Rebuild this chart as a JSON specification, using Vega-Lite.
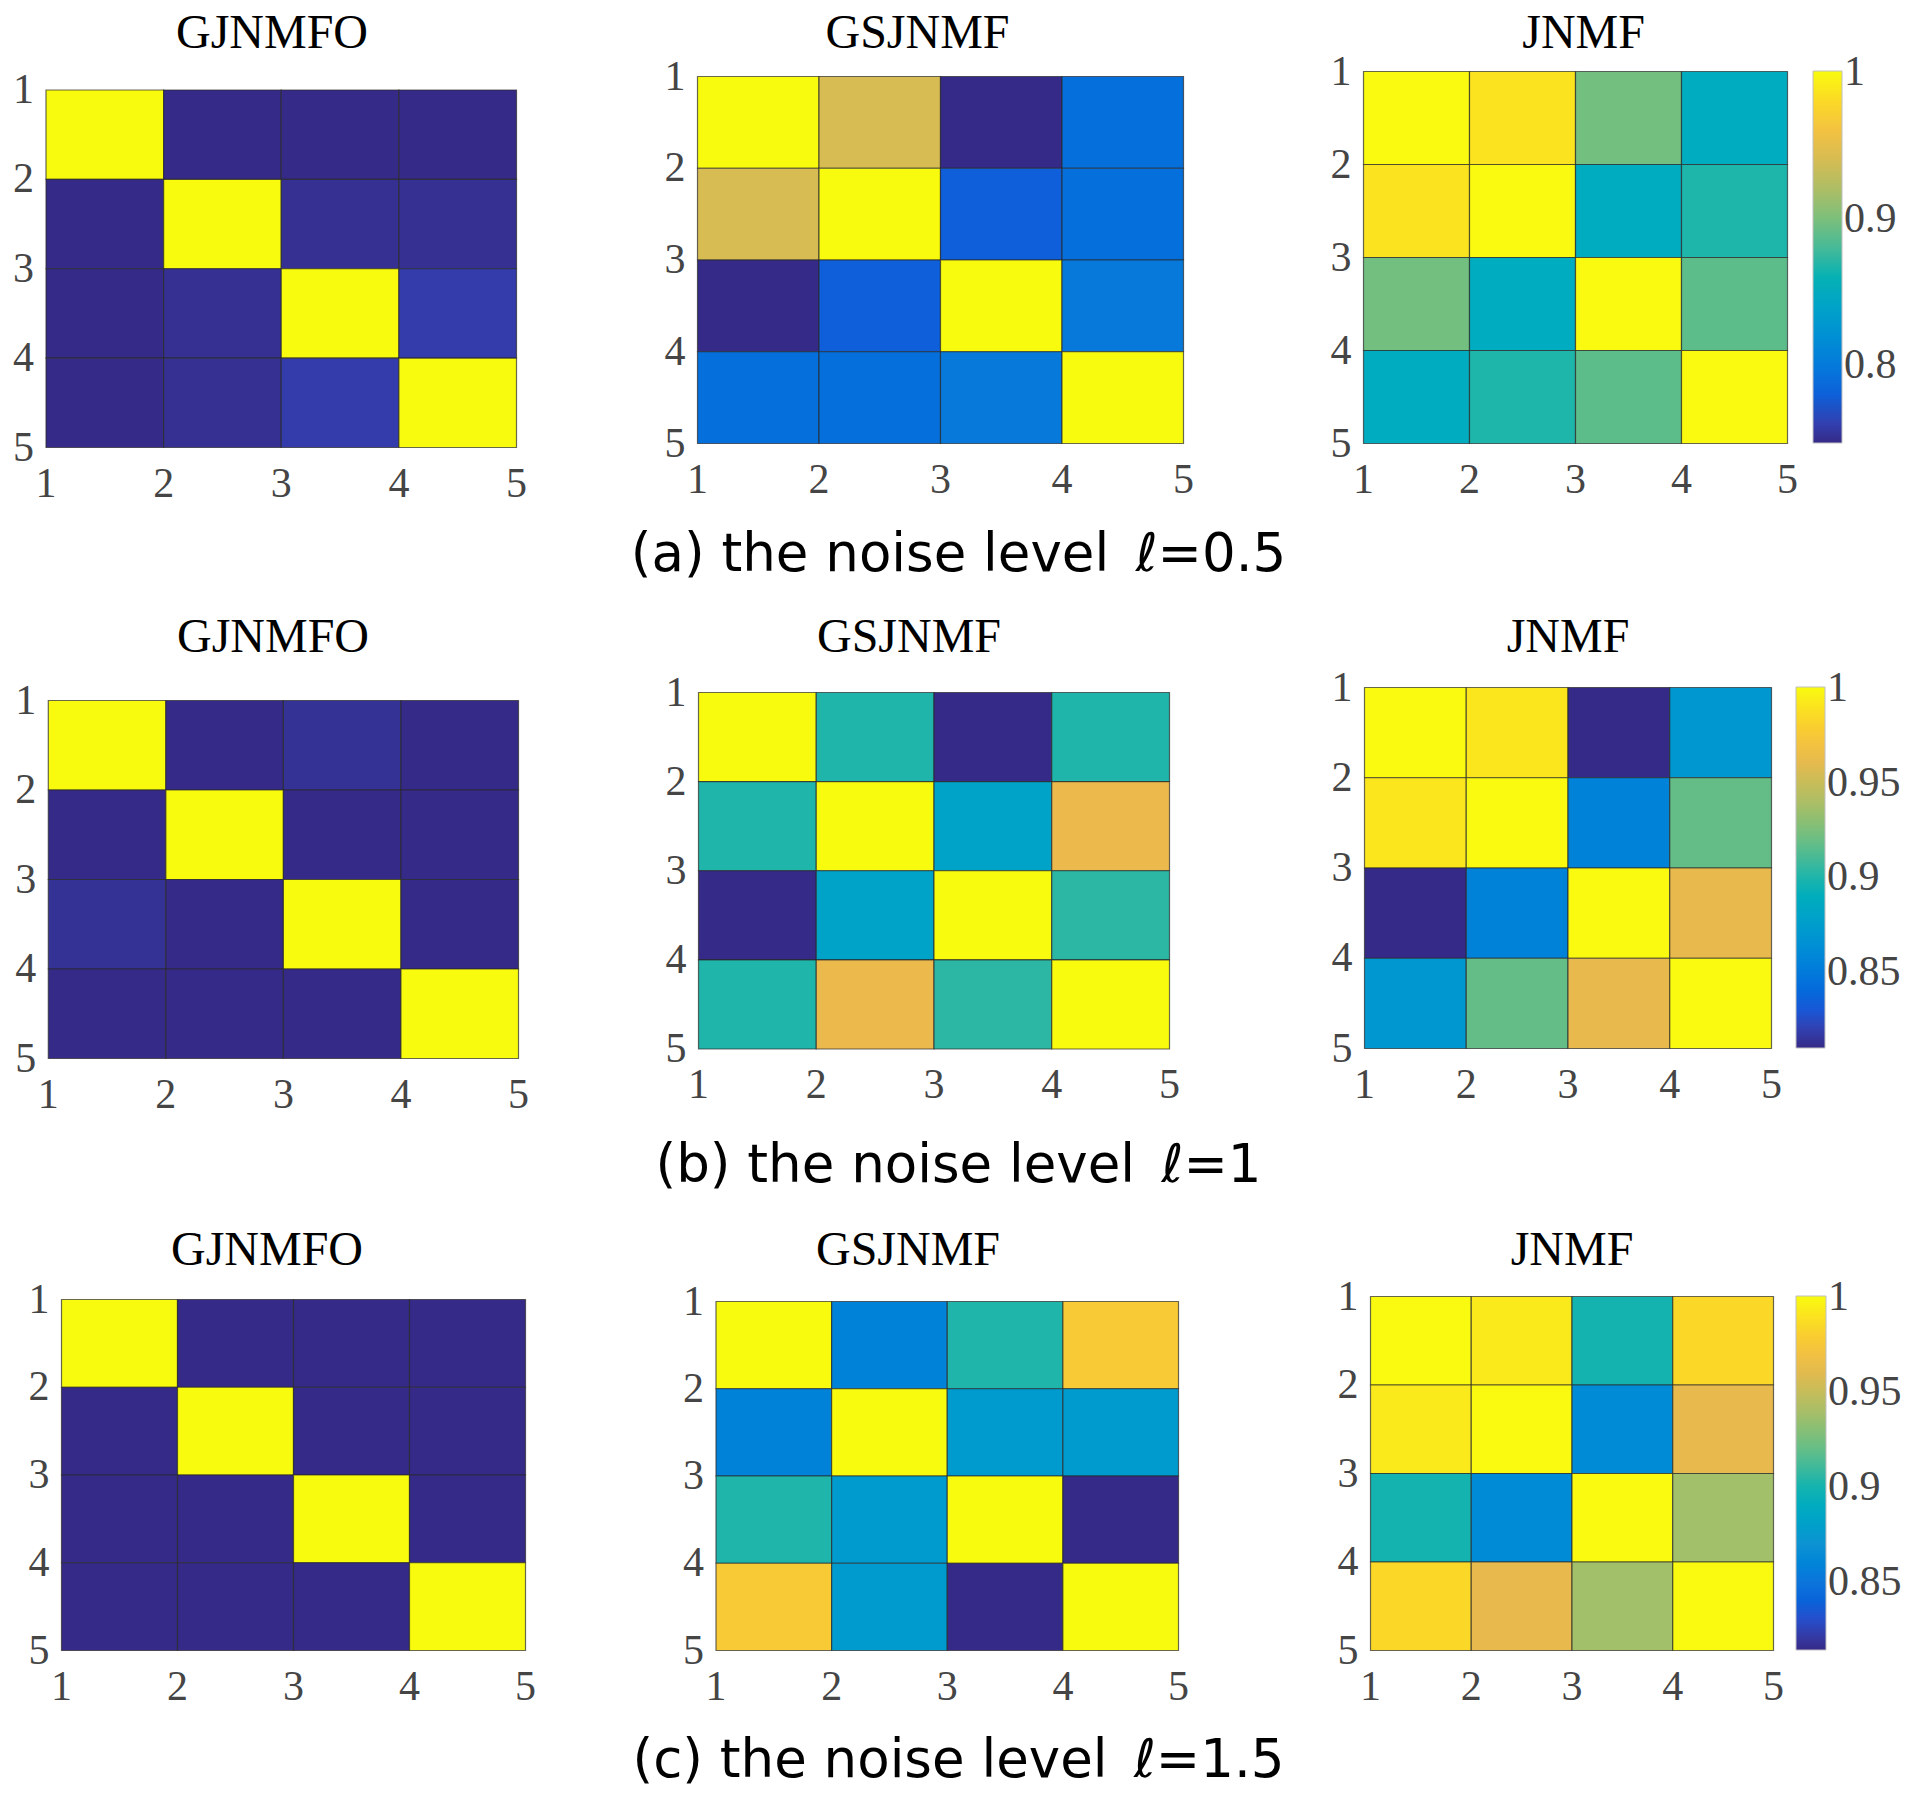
{
  "$schema": "https://vega.github.io/schema/vega-lite/v6.json",
  "padding": 0,
  "background": "white",
  "columns": 3,
  "spacing": 0,
  "bounds": "flush",
  "resolve": {
    "scale": {"x": "independent", "y": "independent", "color": "independent"},
    "axis": {"x": "independent", "y": "independent"},
    "legend": {"color": "independent"}
  },
  "datasets": {
    "a1": [
      {"r": 1, "c": 1, "v": 1}, {"r": 1, "c": 2, "v": 0}, {"r": 1, "c": 3, "v": 0}, {"r": 1, "c": 4, "v": 0},
      {"r": 2, "c": 1, "v": 0}, {"r": 2, "c": 2, "v": 1}, {"r": 2, "c": 3, "v": 0.015}, {"r": 2, "c": 4, "v": 0.015},
      {"r": 3, "c": 1, "v": 0}, {"r": 3, "c": 2, "v": 0.015}, {"r": 3, "c": 3, "v": 1}, {"r": 3, "c": 4, "v": 0.045},
      {"r": 4, "c": 1, "v": 0}, {"r": 4, "c": 2, "v": 0.015}, {"r": 4, "c": 3, "v": 0.045}, {"r": 4, "c": 4, "v": 1}
    ],
    "a2": [
      {"r": 1, "c": 1, "v": 1}, {"r": 1, "c": 2, "v": 0.76}, {"r": 1, "c": 3, "v": 0}, {"r": 1, "c": 4, "v": 0.175},
      {"r": 2, "c": 1, "v": 0.76}, {"r": 2, "c": 2, "v": 1}, {"r": 2, "c": 3, "v": 0.127}, {"r": 2, "c": 4, "v": 0.175},
      {"r": 3, "c": 1, "v": 0}, {"r": 3, "c": 2, "v": 0.127}, {"r": 3, "c": 3, "v": 1}, {"r": 3, "c": 4, "v": 0.206},
      {"r": 4, "c": 1, "v": 0.175}, {"r": 4, "c": 2, "v": 0.175}, {"r": 4, "c": 3, "v": 0.206}, {"r": 4, "c": 4, "v": 1}
    ],
    "a3": [
      {"r": 1, "c": 1, "v": 1}, {"r": 1, "c": 2, "v": 0.987}, {"r": 1, "c": 3, "v": 0.896}, {"r": 1, "c": 4, "v": 0.851},
      {"r": 2, "c": 1, "v": 0.987}, {"r": 2, "c": 2, "v": 1}, {"r": 2, "c": 3, "v": 0.851}, {"r": 2, "c": 4, "v": 0.867},
      {"r": 3, "c": 1, "v": 0.896}, {"r": 3, "c": 2, "v": 0.851}, {"r": 3, "c": 3, "v": 1}, {"r": 3, "c": 4, "v": 0.888},
      {"r": 4, "c": 1, "v": 0.851}, {"r": 4, "c": 2, "v": 0.867}, {"r": 4, "c": 3, "v": 0.888}, {"r": 4, "c": 4, "v": 1}
    ],
    "b1": [
      {"r": 1, "c": 1, "v": 1}, {"r": 1, "c": 2, "v": 0}, {"r": 1, "c": 3, "v": 0.02}, {"r": 1, "c": 4, "v": 0},
      {"r": 2, "c": 1, "v": 0}, {"r": 2, "c": 2, "v": 1}, {"r": 2, "c": 3, "v": 0}, {"r": 2, "c": 4, "v": 0},
      {"r": 3, "c": 1, "v": 0.02}, {"r": 3, "c": 2, "v": 0}, {"r": 3, "c": 3, "v": 1}, {"r": 3, "c": 4, "v": 0},
      {"r": 4, "c": 1, "v": 0}, {"r": 4, "c": 2, "v": 0}, {"r": 4, "c": 3, "v": 0}, {"r": 4, "c": 4, "v": 1}
    ],
    "b2": [
      {"r": 1, "c": 1, "v": 1}, {"r": 1, "c": 2, "v": 0.475}, {"r": 1, "c": 3, "v": 0}, {"r": 1, "c": 4, "v": 0.475},
      {"r": 2, "c": 1, "v": 0.475}, {"r": 2, "c": 2, "v": 1}, {"r": 2, "c": 3, "v": 0.365}, {"r": 2, "c": 4, "v": 0.8},
      {"r": 3, "c": 1, "v": 0}, {"r": 3, "c": 2, "v": 0.365}, {"r": 3, "c": 3, "v": 1}, {"r": 3, "c": 4, "v": 0.49},
      {"r": 4, "c": 1, "v": 0.475}, {"r": 4, "c": 2, "v": 0.8}, {"r": 4, "c": 3, "v": 0.49}, {"r": 4, "c": 4, "v": 1}
    ],
    "b3": [
      {"r": 1, "c": 1, "v": 1}, {"r": 1, "c": 2, "v": 0.991}, {"r": 1, "c": 3, "v": 0.81}, {"r": 1, "c": 4, "v": 0.87},
      {"r": 2, "c": 1, "v": 0.991}, {"r": 2, "c": 2, "v": 1}, {"r": 2, "c": 3, "v": 0.855}, {"r": 2, "c": 4, "v": 0.918},
      {"r": 3, "c": 1, "v": 0.81}, {"r": 3, "c": 2, "v": 0.855}, {"r": 3, "c": 3, "v": 1}, {"r": 3, "c": 4, "v": 0.961},
      {"r": 4, "c": 1, "v": 0.87}, {"r": 4, "c": 2, "v": 0.918}, {"r": 4, "c": 3, "v": 0.961}, {"r": 4, "c": 4, "v": 1}
    ],
    "c1": [
      {"r": 1, "c": 1, "v": 1}, {"r": 1, "c": 2, "v": 0}, {"r": 1, "c": 3, "v": 0}, {"r": 1, "c": 4, "v": 0},
      {"r": 2, "c": 1, "v": 0}, {"r": 2, "c": 2, "v": 1}, {"r": 2, "c": 3, "v": 0}, {"r": 2, "c": 4, "v": 0},
      {"r": 3, "c": 1, "v": 0}, {"r": 3, "c": 2, "v": 0}, {"r": 3, "c": 3, "v": 1}, {"r": 3, "c": 4, "v": 0},
      {"r": 4, "c": 1, "v": 0}, {"r": 4, "c": 2, "v": 0}, {"r": 4, "c": 3, "v": 0}, {"r": 4, "c": 4, "v": 1}
    ],
    "c2": [
      {"r": 1, "c": 1, "v": 1}, {"r": 1, "c": 2, "v": 0.238}, {"r": 1, "c": 3, "v": 0.475}, {"r": 1, "c": 4, "v": 0.873},
      {"r": 2, "c": 1, "v": 0.238}, {"r": 2, "c": 2, "v": 1}, {"r": 2, "c": 3, "v": 0.333}, {"r": 2, "c": 4, "v": 0.333},
      {"r": 3, "c": 1, "v": 0.475}, {"r": 3, "c": 2, "v": 0.333}, {"r": 3, "c": 3, "v": 1}, {"r": 3, "c": 4, "v": 0},
      {"r": 4, "c": 1, "v": 0.873}, {"r": 4, "c": 2, "v": 0.333}, {"r": 4, "c": 3, "v": 0}, {"r": 4, "c": 4, "v": 1}
    ],
    "c3": [
      {"r": 1, "c": 1, "v": 1}, {"r": 1, "c": 2, "v": 0.993}, {"r": 1, "c": 3, "v": 0.9}, {"r": 1, "c": 4, "v": 0.985},
      {"r": 2, "c": 1, "v": 0.993}, {"r": 2, "c": 2, "v": 1}, {"r": 2, "c": 3, "v": 0.864}, {"r": 2, "c": 4, "v": 0.962},
      {"r": 3, "c": 1, "v": 0.9}, {"r": 3, "c": 2, "v": 0.864}, {"r": 3, "c": 3, "v": 1}, {"r": 3, "c": 4, "v": 0.938},
      {"r": 4, "c": 1, "v": 0.985}, {"r": 4, "c": 2, "v": 0.962}, {"r": 4, "c": 3, "v": 0.938}, {"r": 4, "c": 4, "v": 1}
    ]
  },
  "concat": [
    {
      "width": 640, "height": 600,
      "data": {"name": "a1"},
      "title": {"text": "GJNMFO", "offset": -58, "dx": -48},
      "mark": {"type": "rect", "stroke": "#2a2a2a", "strokeWidth": 1.2, "strokeOpacity": 0.7},
      "encoding": {
        "x": {"field": "c", "type": "quantitative", "bin": {"step": 1, "extent": [1, 5]}, "scale": {"domain": [1, 5], "range": [45.5, 516], "nice": false, "zero": false}, "axis": {"values": [1, 2, 3, 4, 5], "offset": -153, "title": null, "labelPadding": 16}},
        "y": {"field": "r", "type": "quantitative", "bin": {"step": 1, "extent": [1, 5]}, "scale": {"domain": [1, 5], "range": [89.5, 447], "nice": false, "zero": false}, "axis": {"values": [1, 2, 3, 4, 5], "offset": -45.5, "title": null, "labelPadding": 12}},
        "color": {"field": "v", "type": "quantitative", "scale": {"domain": [0, 1], "nice": false, "zero": false, "range": ["#352A87", "#1B55D7", "#0F77DB", "#0D93D2", "#07AAC1", "#33B8A1", "#7ABF7C", "#B8BD63", "#ECB94C", "#FAD12B", "#F9FB0E"]}, "legend": null}
      }
    },
    {
      "width": 640, "height": 600,
      "data": {"name": "a2"},
      "title": {"text": "GSJNMF", "offset": -58, "dx": -42.5},
      "mark": {"type": "rect", "stroke": "#2a2a2a", "strokeWidth": 1.2, "strokeOpacity": 0.7},
      "encoding": {
        "x": {"field": "c", "type": "quantitative", "bin": {"step": 1, "extent": [1, 5]}, "scale": {"domain": [1, 5], "range": [57, 543], "nice": false, "zero": false}, "axis": {"values": [1, 2, 3, 4, 5], "offset": -157, "labelPadding": 16, "title": "(a) the noise level\u2002ℓ=0.5", "titleFont": "DejaVu Sans", "titleFontSize": 53, "titleFontWeight": "normal", "titleColor": "#000000", "titleX": 318, "titleY": 111, "titleAlign": "center", "titleBaseline": "middle", "titleAngle": 0}},
        "y": {"field": "r", "type": "quantitative", "bin": {"step": 1, "extent": [1, 5]}, "scale": {"domain": [1, 5], "range": [76, 443], "nice": false, "zero": false}, "axis": {"values": [1, 2, 3, 4, 5], "offset": -57, "title": null, "labelPadding": 12}},
        "color": {"field": "v", "type": "quantitative", "scale": {"domain": [0, 1], "nice": false, "zero": false, "range": ["#352A87", "#1B55D7", "#0F77DB", "#0D93D2", "#07AAC1", "#33B8A1", "#7ABF7C", "#B8BD63", "#ECB94C", "#FAD12B", "#F9FB0E"]}, "legend": null}
      }
    },
    {
      "width": 640, "height": 600,
      "data": {"name": "a3"},
      "title": {"text": "JNMF", "offset": -58, "dx": -16.4},
      "mark": {"type": "rect", "stroke": "#2a2a2a", "strokeWidth": 1.2, "strokeOpacity": 0.7},
      "encoding": {
        "x": {"field": "c", "type": "quantitative", "bin": {"step": 1, "extent": [1, 5]}, "scale": {"domain": [1, 5], "range": [83, 507], "nice": false, "zero": false}, "axis": {"values": [1, 2, 3, 4, 5], "offset": -157, "title": null, "labelPadding": 16}},
        "y": {"field": "r", "type": "quantitative", "bin": {"step": 1, "extent": [1, 5]}, "scale": {"domain": [1, 5], "range": [71, 443], "nice": false, "zero": false}, "axis": {"values": [1, 2, 3, 4, 5], "offset": -83, "title": null, "labelPadding": 12}},
        "color": {"field": "v", "type": "quantitative", "scale": {"domain": [0.747, 1.0006], "nice": false, "zero": false, "range": ["#352A87", "#1B55D7", "#0F77DB", "#0D93D2", "#07AAC1", "#33B8A1", "#7ABF7C", "#B8BD63", "#ECB94C", "#FAD12B", "#F9FB0E"]}, "legend": {"orient": "none", "legendX": 533, "legendY": 71, "gradientLength": 372, "gradientThickness": 29, "values": [0.8, 0.9, 1], "format": "~g", "title": null, "direction": "vertical"}}
      }
    },
    {
      "width": 640, "height": 600,
      "data": {"name": "b1"},
      "title": {"text": "GJNMFO", "offset": -61.5, "dx": -47},
      "mark": {"type": "rect", "stroke": "#2a2a2a", "strokeWidth": 1.2, "strokeOpacity": 0.7},
      "encoding": {
        "x": {"field": "c", "type": "quantitative", "bin": {"step": 1, "extent": [1, 5]}, "scale": {"domain": [1, 5], "range": [47.8, 518], "nice": false, "zero": false}, "axis": {"values": [1, 2, 3, 4, 5], "offset": -142, "title": null, "labelPadding": 16}},
        "y": {"field": "r", "type": "quantitative", "bin": {"step": 1, "extent": [1, 5]}, "scale": {"domain": [1, 5], "range": [100, 458], "nice": false, "zero": false}, "axis": {"values": [1, 2, 3, 4, 5], "offset": -47.8, "title": null, "labelPadding": 12}},
        "color": {"field": "v", "type": "quantitative", "scale": {"domain": [0, 1], "nice": false, "zero": false, "range": ["#352A87", "#1B55D7", "#0F77DB", "#0D93D2", "#07AAC1", "#33B8A1", "#7ABF7C", "#B8BD63", "#ECB94C", "#FAD12B", "#F9FB0E"]}, "legend": null}
      }
    },
    {
      "width": 640, "height": 600,
      "data": {"name": "b2"},
      "title": {"text": "GSJNMF", "offset": -61.5, "dx": -51},
      "mark": {"type": "rect", "stroke": "#2a2a2a", "strokeWidth": 1.2, "strokeOpacity": 0.7},
      "encoding": {
        "x": {"field": "c", "type": "quantitative", "bin": {"step": 1, "extent": [1, 5]}, "scale": {"domain": [1, 5], "range": [58, 529], "nice": false, "zero": false}, "axis": {"values": [1, 2, 3, 4, 5], "offset": -151.5, "labelPadding": 16, "title": "(b) the noise level\u2002ℓ=1", "titleFont": "DejaVu Sans", "titleFontSize": 53, "titleFontWeight": "normal", "titleColor": "#000000", "titleX": 318, "titleY": 117, "titleAlign": "center", "titleBaseline": "middle", "titleAngle": 0}},
        "y": {"field": "r", "type": "quantitative", "bin": {"step": 1, "extent": [1, 5]}, "scale": {"domain": [1, 5], "range": [92, 448.5], "nice": false, "zero": false}, "axis": {"values": [1, 2, 3, 4, 5], "offset": -58, "title": null, "labelPadding": 12}},
        "color": {"field": "v", "type": "quantitative", "scale": {"domain": [0, 1], "nice": false, "zero": false, "range": ["#352A87", "#1B55D7", "#0F77DB", "#0D93D2", "#07AAC1", "#33B8A1", "#7ABF7C", "#B8BD63", "#ECB94C", "#FAD12B", "#F9FB0E"]}, "legend": null}
      }
    },
    {
      "width": 640, "height": 600,
      "data": {"name": "b3"},
      "title": {"text": "JNMF", "offset": -61.5, "dx": -32},
      "mark": {"type": "rect", "stroke": "#2a2a2a", "strokeWidth": 1.2, "strokeOpacity": 0.7},
      "encoding": {
        "x": {"field": "c", "type": "quantitative", "bin": {"step": 1, "extent": [1, 5]}, "scale": {"domain": [1, 5], "range": [84, 491], "nice": false, "zero": false}, "axis": {"values": [1, 2, 3, 4, 5], "offset": -152, "title": null, "labelPadding": 16}},
        "y": {"field": "r", "type": "quantitative", "bin": {"step": 1, "extent": [1, 5]}, "scale": {"domain": [1, 5], "range": [87, 448], "nice": false, "zero": false}, "axis": {"values": [1, 2, 3, 4, 5], "offset": -84, "title": null, "labelPadding": 12}},
        "color": {"field": "v", "type": "quantitative", "scale": {"domain": [0.81, 1.0005], "nice": false, "zero": false, "range": ["#352A87", "#1B55D7", "#0F77DB", "#0D93D2", "#07AAC1", "#33B8A1", "#7ABF7C", "#B8BD63", "#ECB94C", "#FAD12B", "#F9FB0E"]}, "legend": {"orient": "none", "legendX": 516, "legendY": 87, "gradientLength": 361, "gradientThickness": 29, "values": [0.85, 0.9, 0.95, 1], "format": "~g", "title": null, "direction": "vertical"}}
      }
    },
    {
      "width": 640, "height": 600,
      "data": {"name": "c1"},
      "title": {"text": "GJNMFO", "offset": -75, "dx": -53},
      "mark": {"type": "rect", "stroke": "#2a2a2a", "strokeWidth": 1.2, "strokeOpacity": 0.7},
      "encoding": {
        "x": {"field": "c", "type": "quantitative", "bin": {"step": 1, "extent": [1, 5]}, "scale": {"domain": [1, 5], "range": [61, 525], "nice": false, "zero": false}, "axis": {"values": [1, 2, 3, 4, 5], "offset": -150, "title": null, "labelPadding": 16}},
        "y": {"field": "r", "type": "quantitative", "bin": {"step": 1, "extent": [1, 5]}, "scale": {"domain": [1, 5], "range": [99, 450], "nice": false, "zero": false}, "axis": {"values": [1, 2, 3, 4, 5], "offset": -61, "title": null, "labelPadding": 12}},
        "color": {"field": "v", "type": "quantitative", "scale": {"domain": [0, 1], "nice": false, "zero": false, "range": ["#352A87", "#1B55D7", "#0F77DB", "#0D93D2", "#07AAC1", "#33B8A1", "#7ABF7C", "#B8BD63", "#ECB94C", "#FAD12B", "#F9FB0E"]}, "legend": null}
      }
    },
    {
      "width": 640, "height": 600,
      "data": {"name": "c2"},
      "title": {"text": "GSJNMF", "offset": -75, "dx": -52},
      "mark": {"type": "rect", "stroke": "#2a2a2a", "strokeWidth": 1.2, "strokeOpacity": 0.7},
      "encoding": {
        "x": {"field": "c", "type": "quantitative", "bin": {"step": 1, "extent": [1, 5]}, "scale": {"domain": [1, 5], "range": [75.5, 538], "nice": false, "zero": false}, "axis": {"values": [1, 2, 3, 4, 5], "offset": -150, "labelPadding": 16, "title": "(c) the noise level\u2002ℓ=1.5", "titleFont": "DejaVu Sans", "titleFontSize": 53, "titleFontWeight": "normal", "titleColor": "#000000", "titleX": 318, "titleY": 110, "titleAlign": "center", "titleBaseline": "middle", "titleAngle": 0}},
        "y": {"field": "r", "type": "quantitative", "bin": {"step": 1, "extent": [1, 5]}, "scale": {"domain": [1, 5], "range": [101, 450], "nice": false, "zero": false}, "axis": {"values": [1, 2, 3, 4, 5], "offset": -75.5, "title": null, "labelPadding": 12}},
        "color": {"field": "v", "type": "quantitative", "scale": {"domain": [0, 1], "nice": false, "zero": false, "range": ["#352A87", "#1B55D7", "#0F77DB", "#0D93D2", "#07AAC1", "#33B8A1", "#7ABF7C", "#B8BD63", "#ECB94C", "#FAD12B", "#F9FB0E"]}, "legend": null}
      }
    },
    {
      "width": 640, "height": 600,
      "data": {"name": "c3"},
      "title": {"text": "JNMF", "offset": -75, "dx": -28},
      "mark": {"type": "rect", "stroke": "#2a2a2a", "strokeWidth": 1.2, "strokeOpacity": 0.7},
      "encoding": {
        "x": {"field": "c", "type": "quantitative", "bin": {"step": 1, "extent": [1, 5]}, "scale": {"domain": [1, 5], "range": [90, 493], "nice": false, "zero": false}, "axis": {"values": [1, 2, 3, 4, 5], "offset": -150, "title": null, "labelPadding": 16}},
        "y": {"field": "r", "type": "quantitative", "bin": {"step": 1, "extent": [1, 5]}, "scale": {"domain": [1, 5], "range": [96, 450], "nice": false, "zero": false}, "axis": {"values": [1, 2, 3, 4, 5], "offset": -90, "title": null, "labelPadding": 12}},
        "color": {"field": "v", "type": "quantitative", "scale": {"domain": [0.814, 1.0005], "nice": false, "zero": false, "range": ["#352A87", "#1B55D7", "#0F77DB", "#0D93D2", "#07AAC1", "#33B8A1", "#7ABF7C", "#B8BD63", "#ECB94C", "#FAD12B", "#F9FB0E"]}, "legend": {"orient": "none", "legendX": 516, "legendY": 96, "gradientLength": 354, "gradientThickness": 30, "values": [0.85, 0.9, 0.95, 1], "format": "~g", "title": null, "direction": "vertical"}}
      }
    }
  ],
  "config": {
    "view": {"stroke": null},
    "axis": {"domain": false, "ticks": false, "tickSize": 0, "grid": false, "labelFont": "Liberation Serif", "labelFontSize": 42, "labelColor": "#454545", "labelFlush": false, "labelOverlap": false},
    "title": {"font": "Liberation Serif", "fontSize": 48, "fontWeight": "normal", "color": "#000000", "anchor": "middle", "frame": "group"},
    "legend": {"labelFont": "Liberation Serif", "labelFontSize": 42, "labelColor": "#454545", "labelOffset": 4, "padding": 0, "gradientStrokeColor": "#c0c0c0", "gradientStrokeWidth": 1, "labelOverlap": false}
  }
}
